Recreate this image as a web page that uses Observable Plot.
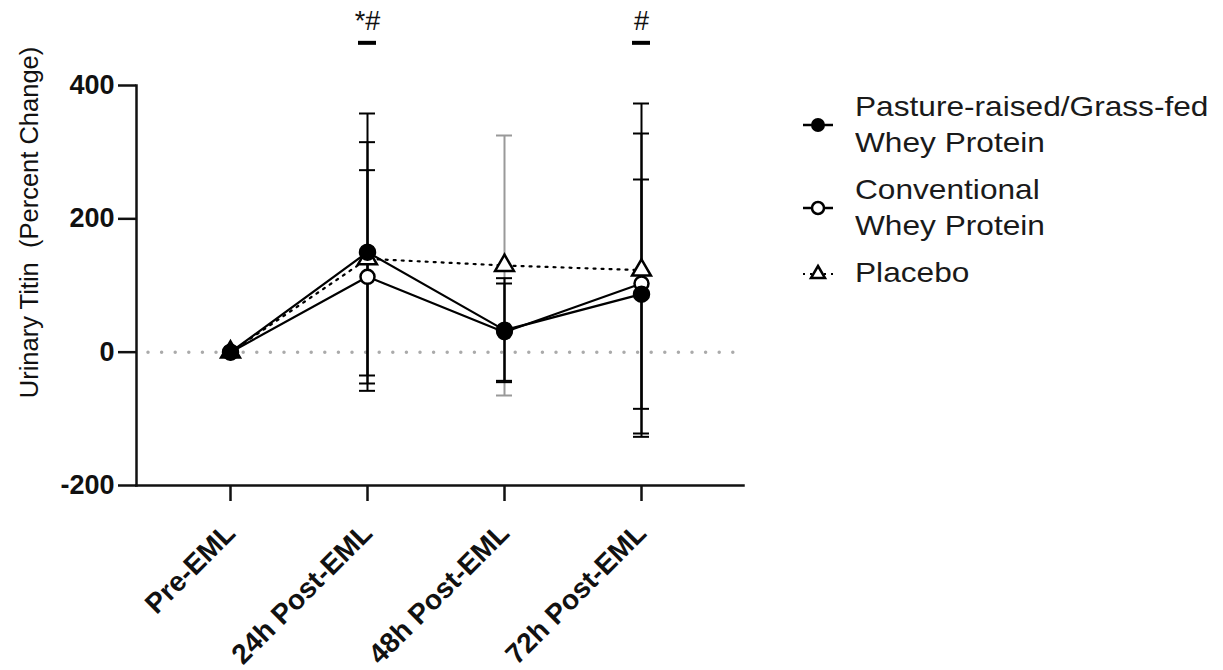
<!DOCTYPE html>
<html><head><meta charset="utf-8">
<script src="https://cdn.jsdelivr.net/npm/d3@7"></script>
<script src="https://cdn.jsdelivr.net/npm/@observablehq/plot@0.6"></script>
<style>
body{margin:0;background:#fff;font-family:"Liberation Sans",Arial,sans-serif;}
#wrap{position:relative;width:1223px;height:670px;overflow:hidden;}
#chart{position:absolute;left:0;top:0;}
#legend{position:absolute;left:803px;top:89px;}
.item{display:flex;align-items:center;margin-bottom:11px;}
.item svg{flex:none;width:34px;height:20px;margin-right:18px;}
.lab{font-size:28px;line-height:36px;color:#1a1a1a;transform:scaleX(1.13);transform-origin:left center;white-space:nowrap;}
</style></head><body>
<div id="wrap"><div id="chart"></div><div id="legend"></div></div>
<script>
// ---- data ----
const times = ["Pre-EML", "24h Post-EML", "48h Post-EML", "72h Post-EML"];
const grassMean = [0, 150, 33, 87];
const grassSD   = [0, 208, 78, 172];
const convMean  = [0, 113, 30, 103];
const convSD    = [0, 160, 73, 225];
const placeboMean = [0, 140, 130, 123];
const placeboSD   = [0, 175, 195, 250];
const seriesNames = ["Pasture-raised/Grass-fed\nWhey Protein", "Conventional\nWhey Protein", "Placebo"];
const yTicks = [-200, 0, 200, 400];
const yTitle = "Urinary Titin\u00a0 (Percent Change)";
const sigTimes = ["24h Post-EML", "72h Post-EML"];
const sigLabels = ["*#", "#"];
const sigBarLevel = 464;
const sigTextLevel = 496;
const greyBarTime = "48h Post-EML";

// ---- build tables ----
const mk = (mean, sd) => times.map((t, i) => ({time: t, mean: mean[i], lo: mean[i] - sd[i], hi: mean[i] + sd[i], sd: sd[i]}));
const grass = mk(grassMean, grassSD);
const conv = mk(convMean, convSD);
const placebo = mk(placeboMean, placeboSD);
const sig = sigTimes.map((t, i) => ({time: t, label: sigLabels[i]}));

function errMarks(data, stroke) {
  const d = data.filter(r => r.sd > 0);
  return [
    Plot.ruleX(d, {x: "time", y1: "lo", y2: "hi", stroke, strokeWidth: 2}),
    Plot.ruleY(d, {x1: "time", x2: "time", y: "hi", stroke, strokeWidth: 2, insetLeft: -8, insetRight: -8}),
    Plot.ruleY(d, {x1: "time", x2: "time", y: "lo", stroke, strokeWidth: 2, insetLeft: -8, insetRight: -8})
  ];
}

const chart = Plot.plot({
  width: 790,
  height: 670,
  marginLeft: 136,
  marginRight: 47,
  marginTop: 85,
  marginBottom: 185,
  style: {fontFamily: "'Liberation Sans', Arial, sans-serif", color: "#111", background: "white"},
  x: {type: "point", domain: times, padding: 0.7, align: 0.48},
  y: {domain: [-200, 400]},
  marks: [
    Plot.ruleY([0], {stroke: "#aaa", strokeWidth: 3.5, strokeDasharray: "0,13.6", strokeLinecap: "round", insetLeft: 12, insetRight: 9}),
    Plot.frame({anchor: "left", strokeWidth: 2.5}),
    Plot.frame({anchor: "bottom", strokeWidth: 2.5}),
    Plot.axisY({ticks: yTicks, tickFormat: d => String(d), tickSize: 18, tickPadding: 4, fontSize: 27, fontWeight: "bold", strokeWidth: 2.5, label: null}),
    Plot.axisX({tickSize: 16, tickRotate: -45, tickPadding: 27, fontSize: 28, fontWeight: "bold", strokeWidth: 2.5, label: null}),
    Plot.text([yTitle], {frameAnchor: "left", textAnchor: "middle", lineAnchor: "middle", rotate: -90, dx: -107, dy: -63, fontSize: 25.5, fill: "#111"}),
    ...errMarks(placebo, d => d.time === greyBarTime ? "#999" : "black"),
    ...errMarks(grass, "black"),
    ...errMarks(conv, "black"),
    Plot.line(placebo, {x: "time", y: "mean", stroke: "black", strokeWidth: 2.2, strokeDasharray: "2,6"}),
    Plot.line(grass, {x: "time", y: "mean", stroke: "black", strokeWidth: 2.2}),
    Plot.line(conv, {x: "time", y: "mean", stroke: "black", strokeWidth: 2.2}),
    Plot.dot(placebo, {x: "time", y: "mean", symbol: "triangle", r: 7, fill: "white", stroke: "black", strokeWidth: 2.5}),
    Plot.dot(conv, {x: "time", y: "mean", symbol: "circle", r: 7, fill: "white", stroke: "black", strokeWidth: 2.5}),
    Plot.dot(grass, {x: "time", y: "mean", symbol: "circle", r: 8, fill: "black", stroke: "black"}),
    Plot.ruleY(sig, {x1: "time", x2: "time", y: sigBarLevel, stroke: "black", strokeWidth: 4, insetLeft: -9, insetRight: -9}),
    Plot.text(sig, {x: "time", y: sigTextLevel, text: "label", fontSize: 27, fill: "#111"})
  ]
});
document.getElementById("chart").appendChild(chart);

// ---- legend ----
const symbols = [
  '<line x1="0" y1="10" x2="30" y2="10" stroke="black" stroke-width="2.5"/><circle cx="15" cy="10" r="7" fill="black"/>',
  '<line x1="0" y1="10" x2="30" y2="10" stroke="black" stroke-width="2.5"/><circle cx="15" cy="10" r="6" fill="white" stroke="black" stroke-width="2.5"/>',
  '<line x1="0" y1="11" x2="30" y2="11" stroke="black" stroke-width="2" stroke-dasharray="2,5"/><path d="M15,3 L22,15 L8,15 Z" fill="white" stroke="black" stroke-width="2.5"/>'
];
const leg = document.getElementById("legend");
seriesNames.forEach((name, i) => {
  const it = document.createElement("div");
  it.className = "item";
  it.innerHTML = `<svg viewBox="0 0 34 20">${symbols[i]}</svg><div class="lab">${name.split("\n").join("<br>")}</div>`;
  leg.appendChild(it);
});
</script>
</body></html>
